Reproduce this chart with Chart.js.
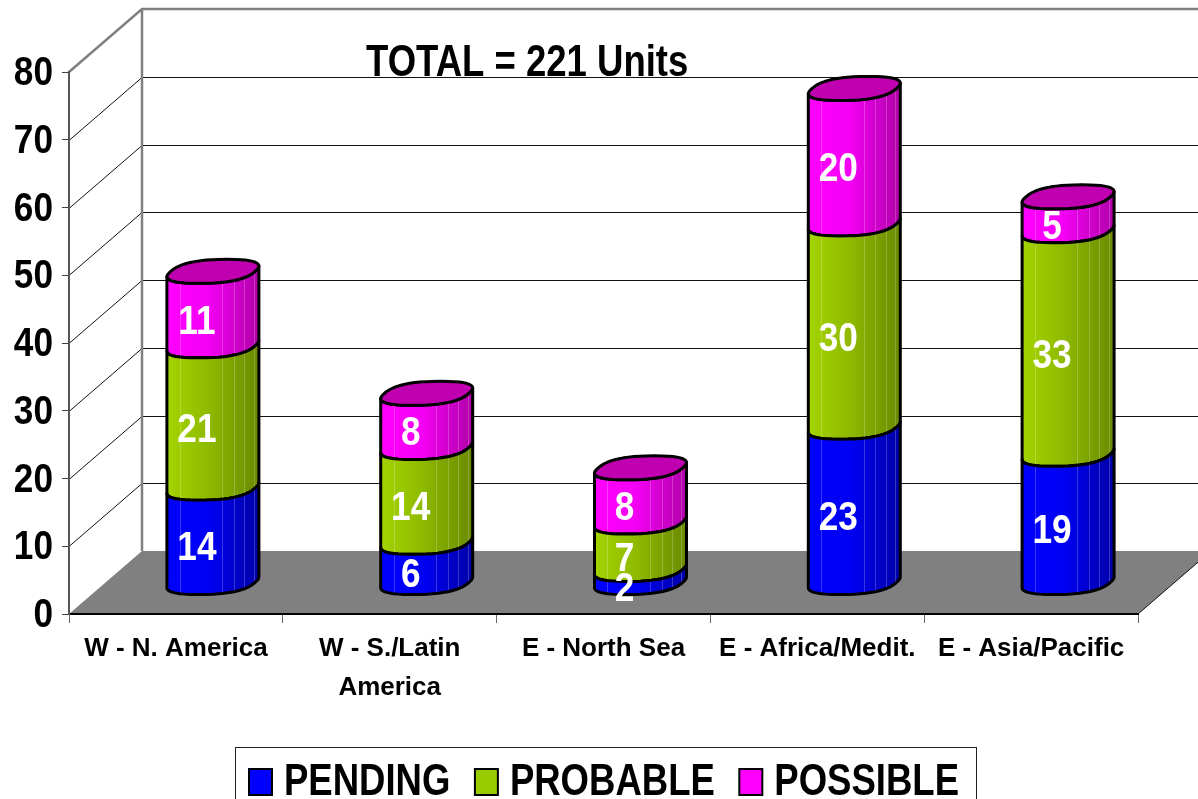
<!DOCTYPE html>
<html>
<head>
<meta charset="utf-8">
<style>html,body{margin:0;padding:0;background:#fff;overflow:hidden}canvas{display:block}</style>
<script src="https://cdn.jsdelivr.net/npm/chart.js@4/dist/chart.umd.min.js"></script>
</head>
<body>
<canvas id="c" width="1198" height="799"></canvas>
<script>
const categories = [["W - N. America"], ["W - S./Latin", "America"], ["E - North Sea"], ["E - Africa/Medit."], ["E - Asia/Pacific"]];
const pending  = [14, 6, 2, 23, 19];
const probable = [21, 14, 7, 30, 33];
const possible = [11, 8, 8, 20, 5];
const titleText = "TOTAL = 221 Units";
const yMax = 80, yStep = 10;

const SANS = "'Liberation Sans',Arial,sans-serif";
const DX = 73, DY = 63;            // wall depth
const BX = 37, BY = 31;            // bars stand mid-depth
const SHEAR = 14, CAP_H = 12, SQUARE = 0.8;
const shades = [
  ['#0000ff', '#0000f4', '#0000a8'],
  ['#a4d400', '#8fba00', '#6a8a00'],
  ['#ff00ff', '#f400f4', '#b000a8']
];
const stripes = [0.14, 0.60, 0.73, 0.84, 0.945];

// The reference's large bold type is horizontally condensed.
const canvas = document.getElementById('c');
const rawCtx = canvas.getContext('2d');
const origFill = rawCtx.fillText, origMeasure = rawCtx.measureText;
function squeezeFor(font) {
  if (/bold 40px/.test(font)) return { k: 0.88, dx: 0, dy: 2 };
  if (/bold 44px/.test(font)) return { k: 0.83, dx: -10, dy: 1 };
  return null;
}
rawCtx.fillText = function (s, x, y, m) {
  const q = squeezeFor(this.font);
  if (!q) return origFill.call(this, s, x, y, m);
  this.save();
  this.translate(x + q.dx, y + q.dy);
  this.scale(q.k, 1);
  origFill.call(this, s, 0, 0);
  this.restore();
};
rawCtx.measureText = function (s) {
  const q = squeezeFor(this.font), r = origMeasure.call(this, s);
  return q ? { width: r.width * q.k, actualBoundingBoxAscent: r.actualBoundingBoxAscent, actualBoundingBoxDescent: r.actualBoundingBoxDescent } : r;
};

function sp(v) { return Math.sign(v) * Math.pow(Math.abs(v), SQUARE); }
function rawRing(t) { return [sp(Math.cos(t)), sp(Math.sin(t))]; }
function ringGeom(w) {
  let a = w / 2 - 3, best = -1, tBest = 0;
  for (let i = 0; i < 720; i++) {
    const t = i / 720 * 2 * Math.PI, r = rawRing(t), xx = a * r[0] + SHEAR * r[1];
    if (xx > best) { best = xx; tBest = t; }
  }
  return { scale: (w / 2) / best, a, t0: tBest };
}
function ringPoint(cx, cy, g, t) {
  const r = rawRing(t);
  return [cx + g.scale * (g.a * r[0] + SHEAR * r[1]), cy - CAP_H * r[1]];
}
function addFront(path, cx, cy, g, reverse) {
  const n = 24;
  for (let i = 0; i <= n; i++) {
    const k = reverse ? n - i : i;
    const p = ringPoint(cx, cy, g, g.t0 - Math.PI + (Math.PI * k) / n);
    path.lineTo(p[0], p[1]);
  }
}

const depthPlugin = {
  id: 'depth',
  afterLayout(chart) {
    const tb = chart.titleBlock;
    tb.left = 376; tb.top = 41;
    const lg = chart.legend;
    lg.left = 234.5; lg.top = 745.5;
  },
  beforeDraw(chart) {
    const ctx = chart.ctx, y = chart.scales.y, x = chart.scales.x;
    const l = x.left, r = x.right, y0 = y.getPixelForValue(0), y1 = y.getPixelForValue(yMax);
    ctx.save();
    ctx.fillStyle = '#808080';
    ctx.beginPath();
    ctx.moveTo(l, y0); ctx.lineTo(r, y0); ctx.lineTo(r + DX, y0 - DY); ctx.lineTo(l + DX, y0 - DY);
    ctx.closePath(); ctx.fill();
    ctx.strokeStyle = '#111'; ctx.lineWidth = 1;
    for (let v = yStep; v < yMax; v += yStep) {
      const py = Math.round(y.getPixelForValue(v)) + 0.5;
      ctx.beginPath();
      ctx.moveTo(l, py); ctx.lineTo(l + DX, py - DY); ctx.lineTo(chart.width, py - DY);
      ctx.stroke();
    }
    ctx.beginPath();
    ctx.moveTo(r, y0); ctx.lineTo(r + DX, y0 - DY);
    ctx.stroke();
    ctx.strokeStyle = '#808080'; ctx.lineWidth = 2.5;
    ctx.beginPath();
    ctx.moveTo(l, y1); ctx.lineTo(l + DX, y1 - DY); ctx.lineTo(chart.width, y1 - DY);
    ctx.moveTo(l + DX, y1 - DY); ctx.lineTo(l + DX, y0 - DY);
    ctx.stroke();
    ctx.restore();
  },
  beforeDatasetDraw(chart, args) {
    const ctx = chart.ctx, meta = args.meta, ds = args.index;
    const isTop = ds === chart.data.datasets.length - 1;
    meta.data.forEach((bar) => {
      const p = bar.getProps(['x', 'y', 'base', 'width'], true);
      const cx = p.x + BX, w = p.width, yt = p.y - BY, yb = p.base - BY;
      const left = cx - w / 2, g = ringGeom(w);
      const body = new Path2D();
      addFront(body, cx, yb, g, false);
      addFront(body, cx, yt, g, true);
      body.closePath();
      ctx.save();
      const grad = ctx.createLinearGradient(left, 0, left + w, 0);
      grad.addColorStop(0, shades[ds][0]);
      grad.addColorStop(0.45, shades[ds][1]);
      grad.addColorStop(1, shades[ds][2]);
      ctx.fillStyle = grad;
      ctx.fill(body);
      ctx.save();
      ctx.clip(body);
      ctx.strokeStyle = 'rgba(255,255,255,0.22)';
      ctx.lineWidth = 1;
      stripes.forEach((s) => {
        const sx = Math.round(left + w * s) + 0.5;
        ctx.beginPath(); ctx.moveTo(sx, yt - 20); ctx.lineTo(sx, yb + 20); ctx.stroke();
      });
      ctx.restore();
      ctx.strokeStyle = '#000'; ctx.lineWidth = 3; ctx.lineJoin = 'round';
      ctx.stroke(body);
      if (isTop) {
        const cap = new Path2D();
        for (let i = 0; i <= 48; i++) {
          const pt = ringPoint(cx, yt, g, (i / 48) * 2 * Math.PI);
          cap.lineTo(pt[0], pt[1]);
        }
        cap.closePath();
        ctx.fillStyle = '#c000b0';
        ctx.fill(cap);
        ctx.stroke(cap);
      }
      ctx.restore();
    });
    return false;
  },
  afterDatasetsDraw(chart) {
    const ctx = chart.ctx;
    ctx.save();
    ctx.fillStyle = '#fff';
    ctx.font = "bold 40px " + SANS;
    ctx.textAlign = 'center';
    ctx.textBaseline = 'middle';
    chart.data.datasets.forEach((d, i) => {
      chart.getDatasetMeta(i).data.forEach((bar, j) => {
        const p = bar.getProps(['x', 'y', 'base'], true);
        ctx.fillText(String(d.data[j]), p.x + 21, (p.y + p.base) / 2 - 19);
      });
    });
    ctx.restore();
  },
  afterDraw(chart) {
    const ctx = chart.ctx;
    ctx.save();
    ctx.strokeStyle = '#222'; ctx.lineWidth = 1;
    ctx.strokeRect(235.5, 747.5, 741, 80);
    ctx.restore();
  }
};

new Chart(canvas, {
  type: 'bar',
  plugins: [depthPlugin],
  data: {
    labels: categories,
    datasets: [
      { label: 'PENDING',  data: pending,  backgroundColor: '#0000ff', borderColor: '#000', borderWidth: 2, stack: 's', barThickness: 92 },
      { label: 'PROBABLE', data: probable, backgroundColor: '#99cc00', borderColor: '#000', borderWidth: 2, stack: 's', barThickness: 92 },
      { label: 'POSSIBLE', data: possible, backgroundColor: '#ff00ff', borderColor: '#000', borderWidth: 2, stack: 's', barThickness: 92 }
    ]
  },
  options: {
    responsive: false,
    animation: false,
    layout: { padding: { top: 28, right: 60, left: 0, bottom: 0 } },
    plugins: {
      tooltip: { enabled: false },
      title: { display: true, text: titleText, align: 'start', color: '#000', padding: 0,
               font: { family: SANS, size: 44, weight: 'bold', lineHeight: 1 } },
      legend: { display: true, position: 'bottom', align: 'start',
                labels: { boxWidth: 23, boxHeight: 26, padding: 14.5, color: '#000',
                          font: { family: SANS, size: 44, weight: 'bold', lineHeight: 1 } } }
    },
    scales: {
      x: {
        stacked: true,
        afterFit(s) { s.height = 799 - 614 - (s.chart.legend ? s.chart.legend.height : 0); },
        border: { display: true, color: '#000', width: 2 },
        grid: { drawOnChartArea: false, drawTicks: true, tickLength: 9, color: '#666' },
        ticks: { color: '#000', padding: 6, maxRotation: 0, autoSkip: false,
                 font: { family: SANS, size: 26, weight: 'bold', lineHeight: 1.5 } }
      },
      y: {
        stacked: true, min: 0, max: yMax,
        afterFit(s) { s.width = 69; },
        border: { display: true, color: '#555', width: 2 },
        grid: { drawOnChartArea: false, drawTicks: true, tickLength: 7, color: '#444' },
        ticks: { stepSize: yStep, color: '#000', padding: 9,
                 font: { family: SANS, size: 40, weight: 'bold' } }
      }
    }
  }
});
</script>
</body>
</html>
